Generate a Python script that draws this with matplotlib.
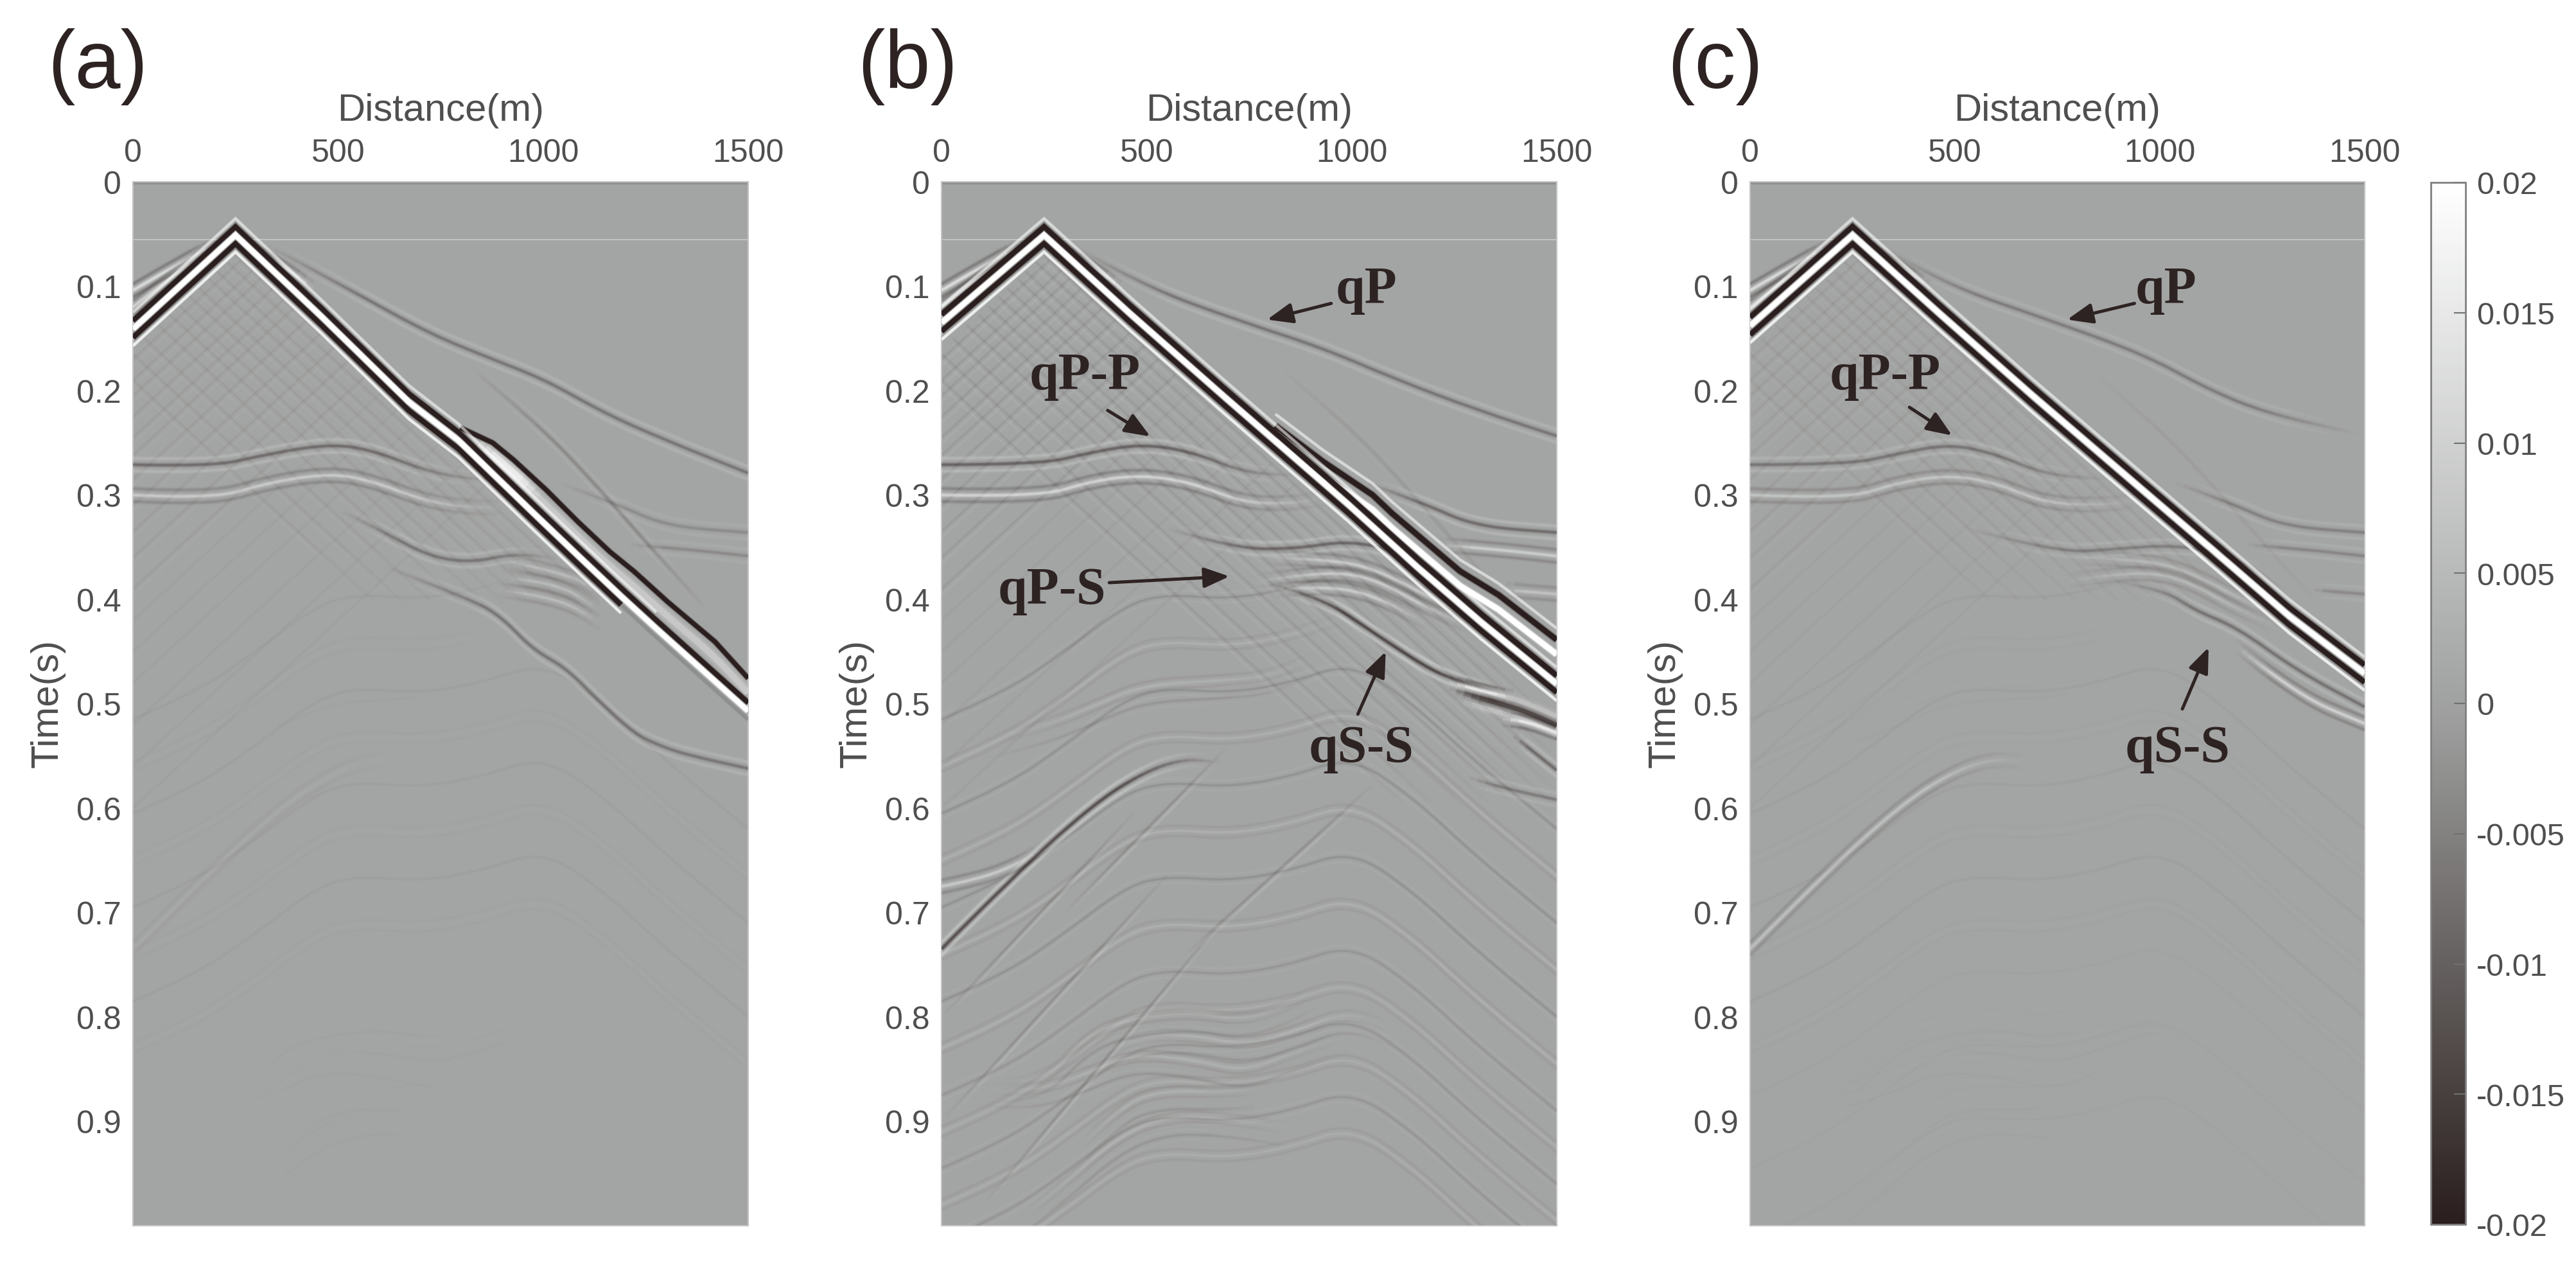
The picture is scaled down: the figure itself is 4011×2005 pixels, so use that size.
import matplotlib
matplotlib.use("Agg")
import numpy as np
import matplotlib.pyplot as plt
from matplotlib.colors import LinearSegmentedColormap, Normalize, to_rgb
from matplotlib.cm import ScalarMappable
from matplotlib.collections import LineCollection
from matplotlib.path import Path
from matplotlib.transforms import IdentityTransform

plt.rcParams['font.family'] = ['Liberation Sans', 'DejaVu Sans']

W, H = 4012, 2006
TXT = '#4f4f4f'
INK = '#2e2323'
BG = '#a3a5a4'
DARK = '#2a1f1e'

distance_ticks = [0, 500, 1000, 1500]
time_ticks = [0, 0.1, 0.2, 0.3, 0.4, 0.5, 0.6, 0.7, 0.8, 0.9]
time_labels = ['0', '0.1', '0.2', '0.3', '0.4', '0.5', '0.6', '0.7', '0.8', '0.9']
cbar_ticks = [-0.02, -0.015, -0.01, -0.005, 0, 0.005, 0.01, 0.015, 0.02]
cbar_labels = ['-0.02', '-0.015', '-0.01', '-0.005', '0', '0.005', '0.01', '0.015', '0.02']
panel_names = ['(a)', '(b)', '(c)']

# first arrival (centre of wavelet)
direct_a_x = [0, 250, 459, 673, 793, 881, 981, 1085, 1190, 1276, 1500]
direct_a_t = [0.141, 0.051, 0.1288, 0.211, 0.2475, 0.281, 0.319, 0.358, 0.397, 0.428, 0.507]
direct_b_x = [0, 250, 459, 690, 993, 1160, 1316, 1500]
direct_b_t = [0.135, 0.051, 0.126, 0.206, 0.3095, 0.369, 0.422, 0.481]
direct_c_x = [0, 250, 459, 690, 993, 1160, 1316, 1500]
direct_c_t = [0.138, 0.051, 0.125, 0.205, 0.307, 0.363, 0.416, 0.471]

# second strong arrival
second_a_x = [798, 877, 928, 1007, 1085, 1163, 1221, 1304, 1419, 1500]
second_a_t = [0.2355, 0.25, 0.2664, 0.295, 0.3257, 0.3545, 0.373, 0.4025, 0.4406, 0.4757]
second_b_x = [814, 930, 1051, 1098, 1264, 1358, 1500]
second_b_t = [0.2335, 0.268, 0.30, 0.3175, 0.373, 0.3957, 0.4388]
glow_a_x = [830, 880, 930, 990]
glow_a_t = [0.2455, 0.262, 0.279, 0.301]

# qP wings
wing_l1_x = [0, 135, 197]
wing_l1_t = [0.104, 0.073, 0.061]
wing_l2_x = [0, 90, 185]
wing_l2_t = [0.120, 0.092, 0.066]
wing_r_x = [300, 370, 440]
wing_r_t = [0.066, 0.082, 0.102]

# qP
qp_a_x = [329, 537, 720, 877, 1007, 1137, 1276, 1500]
qp_a_t = [0.061, 0.105, 0.145, 0.170, 0.19, 0.219, 0.244, 0.279]
qp_b_x = [329, 490, 739, 926, 1113, 1300, 1500]
qp_b_t = [0.063, 0.0996, 0.135, 0.1587, 0.19, 0.2177, 0.2435]
qp_c_x = [329, 457, 749, 968, 1114, 1260, 1480]
qp_c_t = [0.063, 0.0957, 0.135, 0.1665, 0.198, 0.2217, 0.241]

# steep faint arrival
steep_x = [824, 980, 1111, 1250, 1400]
steep_t = [0.178, 0.2295, 0.2825, 0.345, 0.41]

# qP-P
pp_a_x = [0, 195, 325, 480, 584, 714, 818, 883]
pp_a_t = [0.271, 0.273, 0.261, 0.251, 0.257, 0.277, 0.2846, 0.2854]
pp2_a_x = [0, 195, 325, 480, 584, 714, 818, 909]
pp2_a_t = [0.300, 0.304, 0.2886, 0.279, 0.2866, 0.306, 0.312, 0.312]
pp_b_x = [0, 241, 365, 490, 615, 739, 864]
pp_b_t = [0.271, 0.271, 0.259, 0.251, 0.259, 0.279, 0.281]
pp2_b_x = [0, 241, 365, 490, 615, 739, 864, 930]
pp2_b_t = [0.300, 0.302, 0.2866, 0.2807, 0.2886, 0.308, 0.308, 0.303]
pp_c_x = [0, 238, 355, 486, 603, 720, 866]
pp_c_t = [0.271, 0.271, 0.261, 0.251, 0.261, 0.2807, 0.2846]
pp2_c_x = [0, 238, 355, 486, 603, 720, 866, 954]
pp2_c_t = [0.300, 0.304, 0.2886, 0.2807, 0.2886, 0.308, 0.31, 0.304]

# qP-S group
ps_a_x = [510, 615, 720, 824, 928, 1033]
ps_a_t = [0.3157, 0.336, 0.3587, 0.365, 0.356, 0.3606]
ps_b_x = [552, 714, 864, 989, 1113, 1238]
ps_b_t = [0.332, 0.3516, 0.3516, 0.3437, 0.3535, 0.383]
ps_c_x = [530, 749, 895, 1041, 1187, 1304]
ps_c_t = [0.332, 0.3555, 0.3516, 0.3476, 0.3594, 0.391]
ps1_x = [902, 1059, 1137]
ps1_t = [0.3625, 0.375, 0.393]
ps2_x = [902, 1033, 1137]
ps2_t = [0.379, 0.3834, 0.41]
ps3_x = [892, 1033, 1137]
ps3_t = [0.391, 0.3975, 0.422]
ps_b1_x = [764, 926, 1051, 1176, 1288]
ps_b1_t = [0.383, 0.373, 0.379, 0.4067, 0.4264]
ps_b2_x = [802, 926, 1051, 1176]
ps_b2_t = [0.391, 0.387, 0.395, 0.4224]
ps_b3_x = [777, 926, 1051, 1213, 1300]
ps_b3_t = [0.3595, 0.3614, 0.369, 0.4028, 0.4185]

# qS-S
ss_a_x = [615, 824, 897, 976, 1054, 1132, 1221, 1289, 1356, 1500]
ss_a_t = [0.3686, 0.40, 0.416, 0.4486, 0.465, 0.496, 0.5286, 0.541, 0.5495, 0.562]
ss_b1_x = [800, 926, 1056, 1134, 1212, 1290, 1395]
ss_b1_t = [0.385, 0.398, 0.4326, 0.453, 0.4714, 0.4818, 0.494]
ss_b2_x = [1254, 1342, 1420, 1500]
ss_b2_t = [0.488, 0.498, 0.5065, 0.5206]
ss_b3_x = [1238, 1316, 1395]
ss_b3_t = [0.4794, 0.488, 0.494]
ss_b4_x = [1368, 1420, 1500]
ss_b4_t = [0.5145, 0.516, 0.5277]
ss_b5_x = [1395, 1500]
ss_b5_t = [0.531, 0.5637]
ss_c1_x = [895, 1012, 1085, 1187, 1334, 1500]
ss_c1_t = [0.383, 0.391, 0.4106, 0.4264, 0.468, 0.503]
ss_c2_x = [1187, 1334, 1500]
ss_c2_t = [0.445, 0.4917, 0.519]

# upper-right events
ur1_x = [1039, 1176, 1300, 1500]
ur1_t = [0.2886, 0.308, 0.33, 0.336]
ur2_x = [1213, 1350, 1500]
ur2_t = [0.3476, 0.352, 0.3585]
ur3_x = [1377, 1500]
ur3_t = [0.391, 0.395]

# dipping event
dip_x = [0, 178, 365, 490, 590, 677]
dip_t = [0.7349, 0.6643, 0.5977, 0.566, 0.5525, 0.556]
branch_x = [0, 90, 178, 240]
branch_t = [0.675, 0.668, 0.655, 0.64]

# deep strata
deep1_x = [115, 240, 365, 490, 677, 802, 926]
deep1_t = [0.5348, 0.523, 0.5034, 0.4818, 0.4779, 0.4739, 0.4524]
deep2_x = [115, 240, 365, 490, 615, 739, 864, 926]
deep2_t = [0.8645, 0.8664, 0.8135, 0.7997, 0.7958, 0.8037, 0.786, 0.7703]
deep3_x = [365, 490, 615, 739, 864, 989, 1113]
deep3_t = [0.837, 0.8174, 0.8174, 0.8272, 0.8135, 0.7938, 0.8135]
deep4_x = [91, 216, 340, 465, 615, 739, 864, 989]
deep4_t = [0.8684, 0.8723, 0.8566, 0.8351, 0.841, 0.8527, 0.833, 0.8174]
deep5_x = [191, 303, 428, 540, 677, 864]
deep5_t = [0.9939, 0.9587, 0.9155, 0.8959, 0.8959, 0.9077]
deep6_x = [340, 440, 540, 677, 780]
deep6_t = [0.9234, 0.884, 0.8703, 0.8723, 0.8684]
deep_group = [(deep1_x, deep1_t), (deep2_x, deep2_t), (deep3_x, deep3_t), (deep4_x, deep4_t),
              (deep5_x, deep5_t), (deep6_x, deep6_t)]

# background strata: one undulation, repeated at these levels
strata_x = [0, 150, 300, 450, 550, 700, 850, 1000, 1150, 1300, 1500]
strata_shape = [0.085, 0.06, 0.02, -0.025, -0.035, -0.03, -0.04, -0.06, -0.02, 0.035, 0.10]
strata_levels_upper = [0.43, 0.475, 0.52, 0.565, 0.61, 0.655, 0.70, 0.745]
strata_levels_lower = [0.79, 0.825, 0.86, 0.895, 0.93, 0.965]

# straight diffraction lines
diffr_x0 = [0, 0, 100, 587, 300]
diffr_t0 = [0.90, 0.80, 0.98, 0.7429, 0.70]
diffr_x1 = [560, 480, 700, 1061, 700]
diffr_t1 = [0.66, 0.60, 0.70, 0.5741, 0.54]

# crosshatch intercepts (time at distance 0)
hatch_down_t0 = [-0.02, -0.006, 0.012, 0.026, 0.044, 0.06, 0.078, 0.095, 0.115, 0.14, 0.165, 0.19]
hatch_up_t0 = [0.17, 0.19, 0.205, 0.225, 0.245, 0.262, 0.285, 0.31, 0.335, 0.36, 0.39, 0.42, 0.45, 0.48, 0.52, 0.56, 0.6]
hatch_slope = 0.00036

# annotation tables: label, text centre x, t, arrow from x, t, arrow to x, t
labels_b = [('qP', 1035, 0.104, 950, 0.1165, 794, 0.132),
            ('qP-P', 349, 0.186, 405, 0.219, 509, 0.244),
            ('qP-S', 269, 0.392, 409, 0.384, 702, 0.378),
            ('qS-S', 1023, 0.543, 1015, 0.510, 1083, 0.450)]
labels_c = [('qP', 1015, 0.104, 938, 0.1165, 774, 0.132),
            ('qP-P', 329, 0.186, 389, 0.216, 493, 0.243),
            ('qS-S', 1043, 0.543, 1055, 0.505, 1119, 0.446)]

axes_px = [(207, 1165), (1466, 2424), (2725, 3682)]
TOP, BOTTOM = 284, 1909
letters_px = [152, 1413, 2671]


def curve(x, t, dt=0.0):
    verts = [(x[0], t[0] + dt)]
    codes = [Path.MOVETO]
    for i in range(1, len(x) - 1):
        verts.append((x[i], t[i] + dt))
        codes.append(Path.CURVE3)
        verts.append(((x[i] + x[i + 1]) / 2, (t[i] + t[i + 1]) / 2 + dt))
        codes.append(Path.CURVE3)
    verts.append((x[-1], t[-1] + dt))
    codes.append(Path.LINETO)
    return Path(verts, codes)


def stroke(ax, x, t, dt, color, lw, alpha, fade_in=True, fade_out=True, z=3):
    """Draw one pick curve with soft edges and ends that fade into the background."""
    if len(x) == 2:
        pts = ax.transData.transform(np.column_stack([x, np.add(t, dt)]))
    else:
        pts = ax.transData.transform_path(curve(x, t, dt)).to_polygons(closed_only=False)[0]
    d = np.r_[0, np.cumsum(np.hypot(*np.diff(pts, axis=0).T))]
    n = max(int(d[-1] / 12), 4)
    s = np.linspace(0, d[-1], n + 1)
    p = np.column_stack([np.interp(s, d, pts[:, 0]), np.interp(s, d, pts[:, 1])])
    ramp = min(170.0, d[-1] * 0.3)
    mid = (s[:-1] + s[1:]) / 2
    w = np.ones(n)
    if fade_in:
        w = np.minimum(w, mid / ramp)
    if fade_out:
        w = np.minimum(w, (d[-1] - mid) / ramp)
    segs = np.stack([p[:-1], p[1:]], axis=1)
    rgb = to_rgb(color)
    for scale, weight in ((2.3, 0.14), (1.5, 0.24), (0.9, 0.5)):
        body = w >= 0.999
        rgba = np.column_stack([np.tile(rgb, (n, 1)), np.clip(w * alpha * weight, 0, 1)])
        lc = LineCollection(segs[~body], colors=rgba[~body], linewidths=lw * scale,
                            transform=IdentityTransform(), capstyle='butt', zorder=z)
        ax.add_collection(lc, autolim=False)
        if body.any():
            i0, i1 = np.flatnonzero(body)[[0, -1]]
            ln = LineCollection([p[i0:i1 + 2]], colors=[(*rgb, alpha * weight)],
                                linewidths=lw * scale, transform=IdentityTransform(),
                                capstyle='butt', joinstyle='round', zorder=z)
            ax.add_collection(ln, autolim=False)


def event(ax, x, t, kind, amp, lw=2.9, gap=0.0062):
    main, side = (DARK, 'white') if kind == 'dark' else ('white', DARK)
    fi, fo = x[0] > 10, x[-1] < 1490
    stroke(ax, x, t, -gap, side, lw, amp * 0.38, fi, fo)
    stroke(ax, x, t, gap, side, lw, amp * 0.38, fi, fo)
    stroke(ax, x, t, 0, main, lw, amp, fi, fo)


def band(ax, x, t, dt, color, lw, alpha=1.0, soft=True):
    shifted = [v + dt for v in t]
    if soft:
        ax.plot(x, shifted, color=color, lw=lw * 1.4, alpha=alpha * 0.3,
                solid_joinstyle='miter', solid_capstyle='butt', zorder=4)
    ax.plot(x, shifted, color=color, lw=lw, alpha=alpha,
            solid_joinstyle='miter', solid_capstyle='butt', zorder=4)


def texture(ax, amp, t_limit):
    for t0 in hatch_down_t0:
        xs = (0.16 - t0) / (2 * hatch_slope)
        xe = min((t_limit - t0) / hatch_slope, 1500)
        xx = [xs, xe]
        stroke(ax, xx, [t0 + hatch_slope * xs, t0 + hatch_slope * xe], 0, DARK, 2.0, amp, False, True, 2)
        stroke(ax, xx, [t0 + hatch_slope * xs, t0 + hatch_slope * xe], 0.006, 'white', 2.0, amp, False, True, 2)
    for t1 in hatch_up_t0:
        xe = (t1 + 0.02) / (2 * hatch_slope)
        xx = [0, xe]
        fade = amp if t1 < 0.4 else amp * 0.5
        stroke(ax, xx, [t1, t1 - hatch_slope * xe], 0, DARK, 2.0, fade, False, False, 2)
        stroke(ax, xx, [t1, t1 - hatch_slope * xe], 0.006, 'white', 2.0, fade, False, False, 2)


def strata(ax, amp_upper, amp_lower, local_amp):
    for k, level in enumerate(strata_levels_upper):
        stop = 8 if level < 0.5 else len(strata_x)
        event(ax, strata_x[:stop], [level + v for v in strata_shape[:stop]],
              'light' if k % 2 else 'dark', amp_upper, lw=2.3, gap=0.005)
    for k, level in enumerate(strata_levels_lower):
        event(ax, strata_x, [level + v for v in strata_shape],
              'light' if k % 2 else 'dark', amp_lower, lw=2.3, gap=0.005)
    for x, t in deep_group:
        event(ax, x, t, 'light', local_amp, lw=2.4, gap=0.005)
        event(ax, x, [v + 0.017 for v in t], 'dark', local_amp * 0.7, lw=2.4, gap=0.005)


fig = plt.figure(figsize=(W / 100, H / 100), dpi=100, facecolor='white')
axs = []
for i, (l, r) in enumerate(axes_px):
    ax = fig.add_axes([l / W, 1 - BOTTOM / H, (r - l) / W, (BOTTOM - TOP) / H], facecolor=BG)
    ax.set_xlim(0, 1500)
    ax.set_ylim(1.0, 0)
    ax.xaxis.tick_top()
    ax.xaxis.set_label_position('top')
    ax.set_xticks(distance_ticks)
    ax.set_yticks(time_ticks)
    ax.set_yticklabels(time_labels)
    ax.tick_params(axis='x', length=0, labelsize=36, labelcolor=TXT, pad=16)
    ax.tick_params(axis='y', length=0, labelsize=36, labelcolor=TXT, pad=13)
    ax.set_xlabel('Distance(m)', fontsize=43, color=TXT)
    ax.set_ylabel('Time(s)', fontsize=43, color=TXT)
    ax.xaxis.set_label_coords(0.5, 1.0685)
    ax.yaxis.set_label_coords(-0.139, 0.501)
    ax.xaxis.label.set_va('center')
    ax.yaxis.label.set_va('center')
    for s in ax.spines.values():
        s.set_color('#c4c4c4')
        s.set_linewidth(1.5)
    ax.axhline(0.0554, color='#c2c4c3', lw=1.4, zorder=2.5)
    ax.axhline(0.0012, color='#8f9190', lw=2.5, zorder=2.5)
    fig.text(letters_px[i] / W, 1 - 104 / H, panel_names[i], fontsize=92, color=INK,
             ha='center', va='center')
    axs.append(ax)

# ---- panel (a)
a = axs[0]
texture(a, 0.045, 0.42)
strata(a, 0.03, 0.008, 0.012)
for x, t, k, amp in [(qp_a_x, qp_a_t, 'dark', 0.42), (steep_x, steep_t, 'dark', 0.22),
                     (pp_a_x, pp_a_t, 'dark', 0.5), (pp2_a_x, pp2_a_t, 'light', 0.5),
                     (ps_a_x, ps_a_t, 'dark', 0.42), (ps1_x, ps1_t, 'light', 0.3),
                     (ps2_x, ps2_t, 'light', 0.3), (ps3_x, ps3_t, 'light', 0.3),
                     (ss_a_x, ss_a_t, 'dark', 0.42), (ur1_x, ur1_t, 'dark', 0.2),
                     (ur2_x, ur2_t, 'dark', 0.22), (dip_x, dip_t, 'light', 0.07),
                     (wing_l1_x, wing_l1_t, 'light', 0.8), (wing_l2_x, wing_l2_t, 'light', 0.6),
                     (wing_r_x, wing_r_t, 'light', 0.65)]:
    event(a, x, t, k, amp)
stroke(a, second_a_x, second_a_t, 0.014, 'white', 8, 0.5, False, False, 3.5)
stroke(a, glow_a_x, glow_a_t, 0, 'white', 8, 1.0, True, True, 3.5)
band(a, second_a_x, second_a_t, 0, DARK, 5.2)
band(a, direct_a_x[:-1], direct_a_t[:-1], -0.0158, 'white', 3, 0.5)
band(a, direct_a_x[:-2], direct_a_t[:-2], 0.0162, 'white', 3, 0.75)
band(a, direct_a_x[:-2], direct_a_t[:-2], 0.0082, DARK, 5.8)
band(a, direct_a_x[-3:], direct_a_t[-3:], 0.0082, '#6a6a6a', 4, 0.3)
band(a, direct_a_x, direct_a_t, -0.0078, DARK, 5.8)
band(a, direct_a_x, direct_a_t, 0, 'white', 6)

# ---- panel (b)
b = axs[1]
texture(b, 0.08, 0.60)
strata(b, 0.15, 0.12, 0.16)
for x0, t0, x1, t1 in zip(diffr_x0, diffr_t0, diffr_x1, diffr_t1):
    stroke(b, [x0, x1], [t0, t1], 0, DARK, 2.2, 0.16, True, True, 2.5)
    stroke(b, [x0, x1], [t0, t1], 0.005, 'white', 2.2, 0.16, True, True, 2.5)
for x, t, k, amp in [(qp_b_x, qp_b_t, 'dark', 0.42), (steep_x, steep_t, 'dark', 0.08),
                     (pp_b_x, pp_b_t, 'dark', 0.6), (pp2_b_x, pp2_b_t, 'light', 0.65),
                     (ps_b_x, ps_b_t, 'dark', 0.55), (ps_b1_x, ps_b1_t, 'light', 0.5),
                     (ps_b2_x, ps_b2_t, 'light', 0.5), (ps_b3_x, ps_b3_t, 'light', 0.5),
                     (ss_b1_x, ss_b1_t, 'dark', 0.95), (ss_b3_x, ss_b3_t, 'light', 0.95),
                     (ss_b4_x, ss_b4_t, 'light', 0.95), (ss_b5_x, ss_b5_t, 'dark', 0.5),
                     (ss_a_x[7:], [v + 0.03 for v in ss_a_t[7:]], 'dark', 0.35),
                     (ur1_x, ur1_t, 'dark', 0.5), (ur2_x, ur2_t, 'light', 0.55),
                     (ur3_x, ur3_t, 'light', 0.4), (dip_x, dip_t, 'dark', 0.85),
                     (branch_x, branch_t, 'light', 0.5),
                     (wing_l1_x, wing_l1_t, 'light', 0.85), (wing_l2_x, wing_l2_t, 'light', 0.65),
                     (wing_r_x, wing_r_t, 'light', 0.65)]:
    event(b, x, t, k, amp)
event(b, ss_b2_x, ss_b2_t, 'dark', 1.0, lw=5.5, gap=0.0085)
band(b, second_b_x, [v + 0.014 for v in second_b_t], 0, 'white', 6.5)
band(b, second_b_x, second_b_t, 0, DARK, 6.2)
band(b, second_b_x, [v - 0.011 for v in second_b_t], 0, 'white', 3, 0.5)
band(b, direct_b_x, direct_b_t, -0.0158, 'white', 3, 0.5)
band(b, direct_b_x, direct_b_t, 0.0162, 'white', 3, 0.75)
band(b, direct_b_x, direct_b_t, 0.0082, DARK, 5.8)
band(b, direct_b_x, direct_b_t, -0.0078, DARK, 6.2)
band(b, direct_b_x, direct_b_t, 0, 'white', 6)

# ---- panel (c)
c = axs[2]
texture(c, 0.045, 0.42)
strata(c, 0.035, 0.012, 0.02)
for x, t, k, amp in [(qp_c_x, qp_c_t, 'dark', 0.36), (steep_x, steep_t, 'dark', 0.05),
                     (pp_c_x, pp_c_t, 'dark', 0.42), (pp2_c_x, pp2_c_t, 'light', 0.42),
                     (ps_c_x, ps_c_t, 'dark', 0.32), (ps_b1_x, ps_b1_t, 'light', 0.26),
                     (ps_b3_x, ps_b3_t, 'light', 0.26), (ss_c1_x, ss_c1_t, 'dark', 0.45),
                     (ss_c2_x, ss_c2_t, 'light', 0.6), (ur1_x, ur1_t, 'dark', 0.3),
                     (ur2_x, ur2_t, 'dark', 0.26), (ur3_x, ur3_t, 'dark', 0.22),
                     (dip_x, dip_t, 'light', 0.36),
                     (wing_l1_x, wing_l1_t, 'light', 0.8), (wing_l2_x, wing_l2_t, 'light', 0.6),
                     (wing_r_x, wing_r_t, 'light', 0.65)]:
    event(c, x, t, k, amp)
band(c, direct_c_x, direct_c_t, -0.0158, 'white', 3, 0.5)
band(c, direct_c_x, direct_c_t, 0.0162, 'white', 3, 0.75)
band(c, direct_c_x, direct_c_t, 0.0085, DARK, 5.8)
band(c, direct_c_x, direct_c_t, -0.0082, DARK, 5.8)
band(c, direct_c_x, direct_c_t, 0, 'white', 6)

# ---- annotations
for ax, table in [(b, labels_b), (c, labels_c)]:
    for name, tx, ty, ax0, at0, ax1, at1 in table:
        ax.text(tx, ty, name, fontsize=59, family='Liberation Serif', weight='bold', color=INK,
                ha='center', va='center', zorder=6)
        ax.annotate('', xy=(ax1, at1), xytext=(ax0, at0), zorder=6,
                    arrowprops=dict(arrowstyle='-|>,head_length=0.6,head_width=0.24', color=INK,
                                    lw=3.6, shrinkA=0, shrinkB=0, mutation_scale=40))

# ---- colour bar
cax = fig.add_axes([3785 / W, 1 - 1907 / H, 54 / W, (1907 - 285) / H])
cmap = LinearSegmentedColormap.from_list('seis', [DARK, '#a0a2a1', '#ffffff'])
cb = fig.colorbar(ScalarMappable(norm=Normalize(-0.02, 0.02), cmap=cmap), cax=cax)
cb.set_ticks(cbar_ticks)
cb.set_ticklabels(cbar_labels)
cax.tick_params(direction='in', length=13, width=1.5, color='#707070', labelsize=35,
                labelcolor=TXT, pad=12)
cb.outline.set_edgecolor('#808080')
cb.outline.set_linewidth(2)

fig.savefig('out.png', dpi=100, facecolor='white')
